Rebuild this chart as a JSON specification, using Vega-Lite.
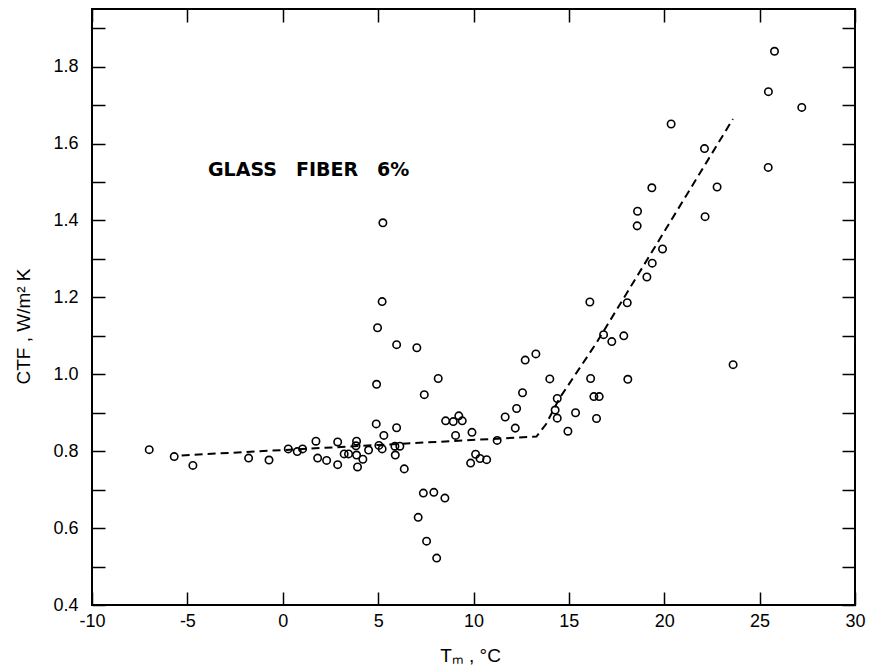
{
  "$schema": "https://vega.github.io/schema/vega-lite/v6.json",
  "width": 763,
  "height": 596,
  "autosize": {"type": "none"},
  "padding": {"left": 92, "top": 9, "right": 14, "bottom": 66},
  "background": "white",
  "config": {
    "view": {"stroke": "black", "strokeWidth": 2},
    "axis": {"grid": false, "domain": false, "tickColor": "black", "tickWidth": 1.5, "labelColor": "black", "titleColor": "black", "labelFont": "Liberation Sans", "titleFont": "Liberation Sans"}
  },
  "datasets": {
    "pts": [
      {"T": -7.0, "C": 0.804}, {"T": -5.69, "C": 0.786}, {"T": -4.71, "C": 0.763}, {"T": -1.79, "C": 0.782},
      {"T": -0.72, "C": 0.777}, {"T": 0.29, "C": 0.806}, {"T": 0.76, "C": 0.799}, {"T": 1.04, "C": 0.806},
      {"T": 1.74, "C": 0.826}, {"T": 1.83, "C": 0.782}, {"T": 2.3, "C": 0.776}, {"T": 2.88, "C": 0.824},
      {"T": 2.88, "C": 0.765}, {"T": 3.22, "C": 0.793}, {"T": 3.45, "C": 0.793}, {"T": 3.87, "C": 0.826},
      {"T": 3.84, "C": 0.814}, {"T": 3.87, "C": 0.79}, {"T": 3.92, "C": 0.759}, {"T": 4.2, "C": 0.779},
      {"T": 4.5, "C": 0.803}, {"T": 4.9, "C": 0.871}, {"T": 4.92, "C": 0.974}, {"T": 4.97, "C": 1.121},
      {"T": 5.21, "C": 1.189}, {"T": 5.25, "C": 1.394}, {"T": 5.04, "C": 0.815}, {"T": 5.21, "C": 0.806},
      {"T": 5.3, "C": 0.841}, {"T": 5.97, "C": 1.077}, {"T": 5.97, "C": 0.861}, {"T": 5.88, "C": 0.813},
      {"T": 6.14, "C": 0.813}, {"T": 5.9, "C": 0.79}, {"T": 6.37, "C": 0.754}, {"T": 7.03, "C": 1.069},
      {"T": 7.42, "C": 0.947}, {"T": 8.15, "C": 0.989}, {"T": 7.37, "C": 0.691}, {"T": 7.92, "C": 0.693},
      {"T": 8.5, "C": 0.678}, {"T": 7.1, "C": 0.628}, {"T": 7.54, "C": 0.566}, {"T": 8.07, "C": 0.522},
      {"T": 8.54, "C": 0.879}, {"T": 8.94, "C": 0.877}, {"T": 9.23, "C": 0.892}, {"T": 9.41, "C": 0.879},
      {"T": 9.06, "C": 0.841}, {"T": 9.92, "C": 0.849}, {"T": 9.85, "C": 0.769}, {"T": 10.11, "C": 0.792},
      {"T": 10.34, "C": 0.781}, {"T": 10.69, "C": 0.778}, {"T": 11.24, "C": 0.828}, {"T": 12.71, "C": 1.037},
      {"T": 13.27, "C": 1.053}, {"T": 14.0, "C": 0.988}, {"T": 12.57, "C": 0.952}, {"T": 12.26, "C": 0.911},
      {"T": 11.66, "C": 0.889}, {"T": 12.19, "C": 0.86}, {"T": 14.39, "C": 0.937}, {"T": 14.28, "C": 0.907},
      {"T": 14.39, "C": 0.886}, {"T": 14.95, "C": 0.852}, {"T": 15.35, "C": 0.9}, {"T": 16.14, "C": 0.989},
      {"T": 16.31, "C": 0.942}, {"T": 16.59, "C": 0.942}, {"T": 16.45, "C": 0.885}, {"T": 16.82, "C": 1.103},
      {"T": 17.25, "C": 1.085}, {"T": 17.88, "C": 1.1}, {"T": 18.09, "C": 0.987}, {"T": 18.06, "C": 1.186},
      {"T": 16.1, "C": 1.188}, {"T": 23.61, "C": 1.025}, {"T": 19.09, "C": 1.253}, {"T": 19.37, "C": 1.289},
      {"T": 19.91, "C": 1.326}, {"T": 18.58, "C": 1.386}, {"T": 18.6, "C": 1.424}, {"T": 19.35, "C": 1.485},
      {"T": 22.14, "C": 1.41}, {"T": 22.77, "C": 1.487}, {"T": 25.78, "C": 1.84}, {"T": 25.46, "C": 1.735},
      {"T": 27.21, "C": 1.694}, {"T": 20.36, "C": 1.651}, {"T": 22.11, "C": 1.587}, {"T": 25.45, "C": 1.538}
    ],
    "fit": [
      {"T": -5.3, "C": 0.789}, {"T": 13.3, "C": 0.838}, {"T": 13.8, "C": 0.87},
      {"T": 14.5, "C": 0.937}, {"T": 16.45, "C": 1.082}, {"T": 23.6, "C": 1.664}
    ],
    "note": [{"T": -3.92, "C": 1.53, "label": "GLASS\u2002\u2002FIBER\u2002\u20026%"}]
  },
  "layer": [
    {
      "data": {"name": "pts"},
      "mark": {"type": "point", "shape": "circle", "filled": false, "stroke": "black", "strokeWidth": 1.6, "size": 55, "opacity": 1},
      "encoding": {
        "x": {"field": "T", "type": "quantitative",
          "scale": {"domain": [-10, 30], "nice": false, "zero": false},
          "axis": {"orient": "bottom", "values": [-10, -5, 0, 5, 10, 15, 20, 25, 30], "labelExpr": "'' + datum.value", "tickSize": -13, "labelPadding": 20, "labelFontSize": 18, "labelFlush": false,
            "title": "Tₘ , °C", "titleFontSize": 19, "titleFontWeight": "normal", "titleX": 378, "titleY": 50, "titleBaseline": "middle", "titleAlign": "center"}},
        "y": {"field": "C", "type": "quantitative",
          "scale": {"domain": [0.4, 1.95], "nice": false, "zero": false},
          "axis": {"orient": "left", "values": [0.4, 0.5, 0.6, 0.7, 0.8, 0.9, 1.0, 1.1, 1.2, 1.3, 1.4, 1.5, 1.6, 1.7, 1.8, 1.9],
            "labelExpr": "round(datum.value*10) % 2 == 0 ? format(datum.value, '.1f') : ''",
            "tickSize": -13, "labelPadding": 27, "labelFontSize": 18, "labelFlush": false,
            "title": "CTF , W/m² K", "titleFontSize": 19, "titleFontWeight": "normal", "titleX": -69, "titleY": 317, "titleAngle": 270, "titleAlign": "center", "titleBaseline": "middle"}}
      }
    },
    {
      "data": {"name": "fit"},
      "mark": {"type": "line", "stroke": "black", "strokeWidth": 2, "strokeDash": [8, 5]},
      "encoding": {
        "x": {"field": "T", "type": "quantitative",
          "axis": {"orient": "top", "values": [-10, -5, 0, 5, 10, 15, 20, 25, 30], "tickSize": -13, "labels": false, "title": null}},
        "y": {"field": "C", "type": "quantitative",
          "axis": {"orient": "right", "values": [0.4, 0.5, 0.6, 0.7, 0.8, 0.9, 1.0, 1.1, 1.2, 1.3, 1.4, 1.5, 1.6, 1.7, 1.8, 1.9], "tickSize": -13, "labels": false, "title": null}}
      }
    },
    {
      "data": {"name": "note"},
      "mark": {"type": "text", "align": "left", "baseline": "middle", "fontSize": 19, "font": "DejaVu Sans", "fontWeight": "bold", "color": "black"},
      "encoding": {
        "x": {"field": "T", "type": "quantitative", "axis": null},
        "y": {"field": "C", "type": "quantitative", "axis": null},
        "text": {"field": "label"}
      }
    }
  ],
  "resolve": {"axis": {"x": "independent", "y": "independent"}}
}
